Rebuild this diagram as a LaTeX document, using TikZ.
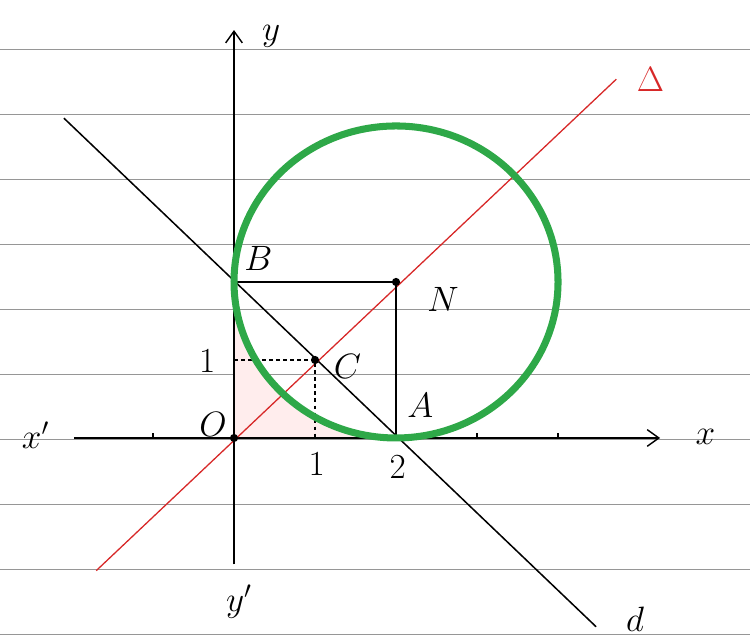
\documentclass[tikz,border=0pt]{standalone}
\usepackage{amssymb}
\usetikzlibrary{arrows.meta}
\definecolor{penGreen}{RGB}{46,168,72}
\definecolor{penRed}{RGB}{215,40,40}
\definecolor{paperLine}{RGB}{150,150,150}

\begin{document}
\begin{tikzpicture}[x=2.43cm, y=2.34cm, lbl/.style={font=\huge, scale=1.45}, pt/.style={fill=black, inner sep=0pt, minimum size=7pt, circle}]
			\useasboundingbox (-2.889,-2.615) rectangle (6.370,5.615);
			\foreach \k in {-3,...,6}
				\draw[paperLine, line width=1pt] (-2.889, \k*0.834-0.02) -- (6.370, \k*0.834-0.02);
			
			\coordinate (O) at (0,0);
			\coordinate (A) at (2,0);
			\coordinate (B) at (0,2);
			\coordinate (C) at (1,1);
			\coordinate (N) at (2,2);
			
			\fill[red!7] (O) -- (A) arc[start angle=270, end angle=180, radius=2] -- cycle;
			
			\coordinate (xs) at (-1.97,0);
			\coordinate (xe) at (5.26,0);
			\coordinate (ys) at (0,-1.62);
			\coordinate (ye) at (0,5.23);
			\draw[line width=1.2pt, -{Straight Barb[length=3.5mm, width=5mm]}] (xs) -- (xe);
			\draw[line width=1.2pt, -{Straight Barb[length=3.5mm, width=5mm]}] (ys) -- (ye);
			\foreach \t in {-1,3,4}
				\draw[line width=1pt] (\t,0) -- (\t,0.07);
			
			\coordinate (d1) at (-2.1,4.1);
			\coordinate (d2) at (4.47,-2.42);
			\draw[line width=1.3pt] (d1) -- (d2);
			\coordinate (D1) at (-1.7,-1.7);
			\coordinate (D2) at (4.72,4.6);
			\draw[penRed, line width=1.1pt] (D1) -- (D2);
			
			\draw[line width=1.3pt] (B) -- (N) -- (A);
			\draw[line width=1.3pt, dashed] (0,1) -- (C) -- (1,0);
			
			\draw[penGreen, line width=6pt] (N) circle (2);
			
			\node[pt] at (O) {};
			\node[pt] at (C) {};
			\node[pt] at (N) {};
			
			\node[lbl] at (-2.45, 0.04) {$x'$};
			\node[lbl] at (5.82, 0.02) {$x$};
			\node[lbl] at (0.46, 5.15) {$y$};
			\node[lbl] at (0.06, -2.1) {$y'$};
			\node[lbl] at (-0.26, 0.17) {$O$};
			\node[lbl] at (2.3, 0.42) {$A$};
			\node[lbl] at (0.3, 2.3) {$B$};
			\node[lbl] at (1.4, 0.92) {$C$};
			\node[lbl] at (2.58, 1.78) {$N$};
			\node[lbl] at (-0.33, 0.99) {$1$};
			\node[lbl] at (1.02, -0.33) {$1$};
			\node[lbl] at (2.02, -0.37) {$2$};
			\node[lbl, penRed] at (5.14, 4.6) {$\Delta$};
			\node[lbl] at (4.95, -2.33) {$d$};
		\end{tikzpicture}
\end{document}
